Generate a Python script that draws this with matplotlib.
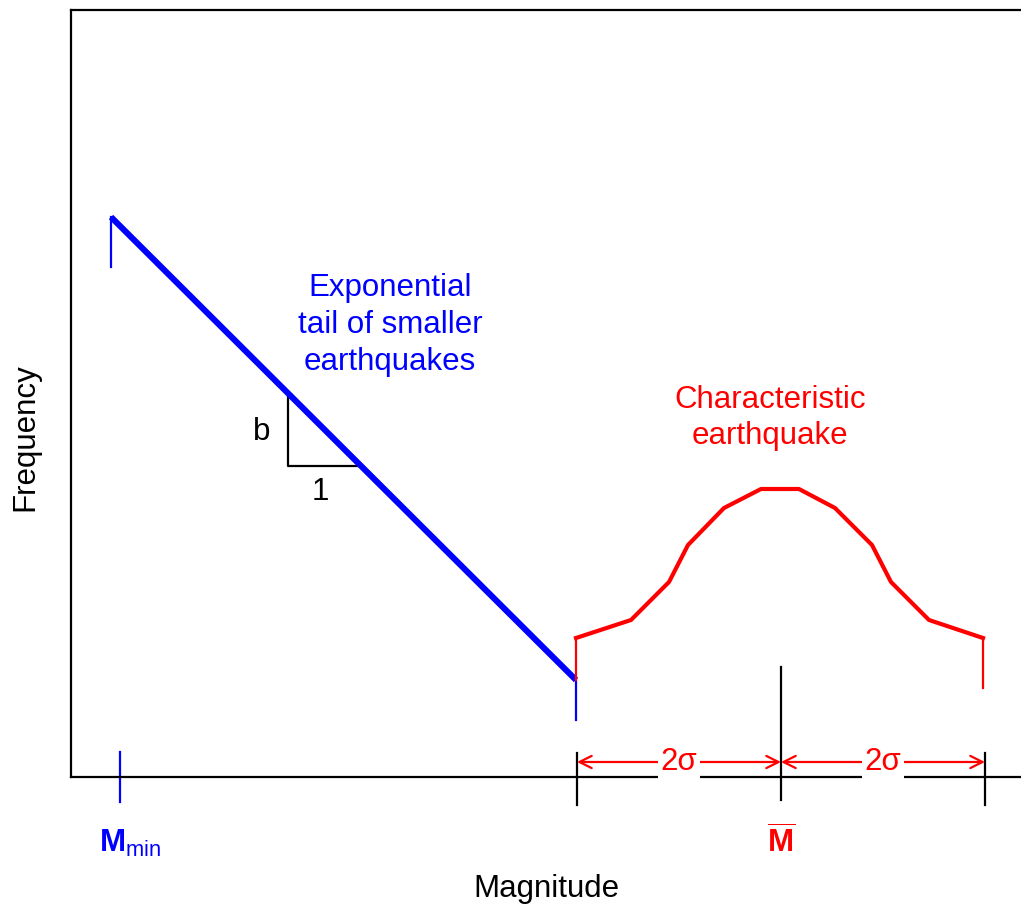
import matplotlib
matplotlib.use("Agg")
import matplotlib.pyplot as plt

plt.rcParams['font.family'] = ['Liberation Sans', 'DejaVu Sans']
plt.rcParams['mathtext.fontset'] = 'custom'
plt.rcParams['mathtext.rm'] = 'Liberation Sans'
plt.rcParams['mathtext.bf'] = 'Liberation Sans:bold'

# Gutenberg-Richter tail (magnitude, log frequency)
tail_x = [0.40, 5.05]
tail_y = [5.60, 0.97]

# characteristic earthquake bump
char_x = [5.05, 5.60, 5.98, 6.17, 6.53, 6.90, 7.28, 7.64, 8.01, 8.20, 8.58, 9.12]
char_y = [1.39, 1.57, 1.95, 2.32, 2.69, 2.88, 2.88, 2.69, 2.32, 1.95, 1.57, 1.39]
char_end_drop = 0.89

m_min = 0.49
m_bar = 7.10
sigma = 1.02

# slope triangle
tri_x = [2.17, 2.17, 2.87]
tri_y = [3.84, 3.11, 3.11]

fs = 22.5
fig = plt.figure(figsize=(10.21, 9.05), dpi=100)
ax = fig.add_axes([71 / 1021, 128 / 905, 950 / 1021, 767 / 905])
ax.set_xlim(0, 9.5)
ax.set_ylim(0, 7.67)
ax.set_xticks([])
ax.set_yticks([])
ax.spines['right'].set_visible(False)
for s in ['left', 'top', 'bottom']:
    ax.spines[s].set_linewidth(1.6)

# blue tail
ax.plot(tail_x, tail_y, color='blue', lw=4.4, solid_capstyle='butt', zorder=4)
ax.plot([tail_x[0], tail_x[0]], [tail_y[0], tail_y[0] - 0.5], color='blue', lw=1.6, zorder=4)
ax.plot([tail_x[1], tail_x[1]], [tail_y[1], tail_y[1] - 0.4], color='blue', lw=1.6, zorder=4)

# red bump
ax.plot(char_x, char_y, color='red', lw=3.0, zorder=4)
ax.plot([char_x[0], char_x[0]], [tail_y[1], char_y[0]], color='red', lw=1.6, zorder=4)
ax.plot([char_x[-1], char_x[-1]], [char_y[-1], char_end_drop], color='red', lw=1.6, zorder=4)

# slope triangle
ax.plot(tri_x, tri_y, color='black', lw=1.6)
ax.text(1.91, 3.45, 'b', fontsize=fs, ha='center', va='center')
ax.text(2.49, 2.85, '1', fontsize=fs, ha='center', va='center')

# annotations
ax.text(3.19, 4.52, 'Exponential\ntail of smaller\nearthquakes', color='blue',
        fontsize=fs, ha='center', va='center', linespacing=1.3)
ax.text(6.99, 3.59, 'Characteristic\nearthquake', color='red',
        fontsize=fs, ha='center', va='center', linespacing=1.3)

# tick marks below axis
ax.plot([m_min, m_min], [0.25, -0.25], color='blue', lw=1.6, clip_on=False)
for xv in [m_bar - 2 * sigma, m_bar + 2 * sigma]:
    ax.plot([xv, xv], [0.24, -0.28], color='black', lw=1.6, clip_on=False)
ax.plot([m_bar, m_bar], [1.10, -0.23], color='black', lw=1.6, clip_on=False)

# 2 sigma arrows
for x0, x1 in [(m_bar - 2 * sigma, m_bar), (m_bar, m_bar + 2 * sigma)]:
    ax.annotate('', xy=(x0, 0.15), xytext=(x1, 0.15),
                arrowprops=dict(arrowstyle='<->', color='red', lw=1.6,
                                mutation_scale=22, shrinkA=0, shrinkB=0),
                zorder=3)
    ax.text((x0 + x1) / 2, 0.15, '2σ', color='red', fontsize=fs,
            ha='center', va='center', zorder=5,
            bbox=dict(facecolor='white', edgecolor='none', pad=2))

# magnitude labels
ax.text(m_min + 0.1, -0.66, r'$\mathbf{M}_{\mathrm{min}}$', color='blue',
        fontsize=fs, ha='center', va='center', clip_on=False)
ax.text(m_bar, -0.66, r'$\overline{\mathbf{M}}$', color='red',
        fontsize=fs, ha='center', va='center', clip_on=False)

ax.set_xlabel('Magnitude', fontsize=fs, labelpad=70)
ax.set_ylabel('Frequency', fontsize=fs, va='center')
ax.yaxis.set_label_coords(-0.048, 0.443)

fig.savefig('out.png', dpi=100)
